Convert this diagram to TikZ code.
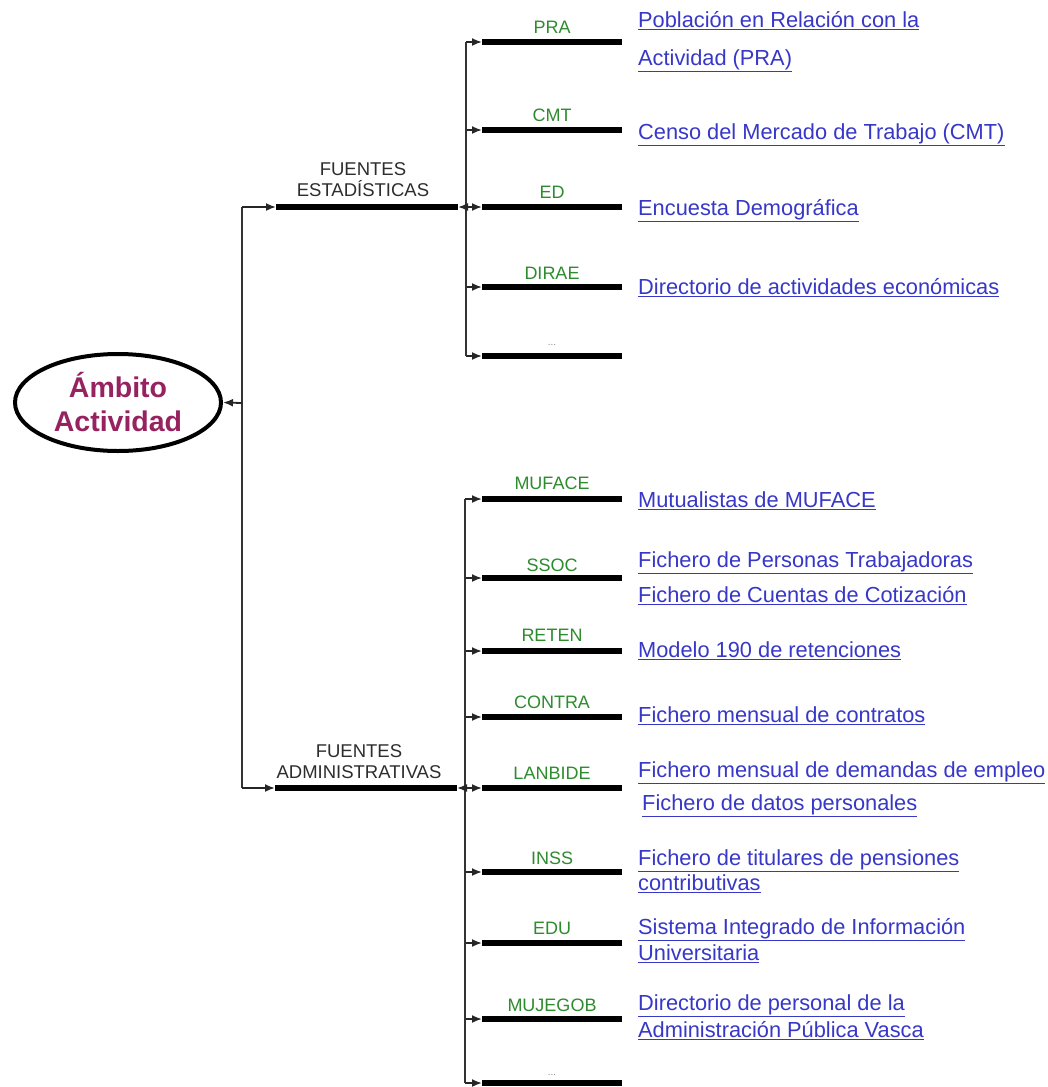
\documentclass[tikz,border=0pt]{standalone}
\usepackage{fontspec}
\setmainfont{Liberation Sans}
\usetikzlibrary{arrows.meta,shapes.geometric}
\definecolor{linkblue}{RGB}{55,55,200}
\definecolor{codegreen}{RGB}{45,140,45}
\definecolor{maroonpink}{RGB}{150,35,95}
\definecolor{darktxt}{RGB}{45,45,45}
\newcommand\lnk[1]{\underline{#1}}
\tikzset{
 bar/.style={fill=black, minimum width=140pt, minimum height=6pt, inner sep=0pt, outer sep=0pt, draw=none},
 midbar/.style={bar, minimum width=182pt},
 conn/.style={draw=black!85, line width=1.8pt, -{Latex[length=10pt,width=8pt]}},
 spine/.style={draw=black!80, line width=1.8pt},
 code/.style={text=codegreen, font=\fontsize{18}{21}\selectfont, inner sep=0pt, text height=13pt, text depth=0pt},
 dots/.style={text=black!45, font=\fontsize{10}{11}\selectfont, inner sep=0pt},
 group/.style={text=darktxt, font=\fontsize{18.5}{21}\selectfont, align=center, inner sep=0pt},
 link/.style={text=linkblue, font=\fontsize{21.8}{25}\selectfont, anchor=west, inner sep=0pt, text height=15pt, text depth=0pt},
 root/.style={ellipse, draw=black, line width=4pt, minimum width=206pt, minimum height=97pt, fill=white, text=maroonpink, font=\bfseries\fontsize{28.5}{34}\selectfont, align=center, inner sep=0pt}
}
\begin{document}
\begin{tikzpicture}[x=1pt,y=-1pt]
\useasboundingbox[fill=white] (0,0) rectangle (1047,1087);
% root
\node[root] (root) at (118,402.5) {Ámbito\\Actividad};
% group bars
\node[midbar] (fe) at (367,207) {};
\node[midbar] (fa) at (366,788) {};
\node[group] (fel) at (363,180) {FUENTES\\ESTADÍSTICAS};
\node[group] (fal) at (359,762) {FUENTES\\ADMINISTRATIVAS};
% left spine
\coordinate (lt) at (242,207);
\coordinate (lm) at (242,403);
\coordinate (lb) at (242,788);
\draw[spine] (lt) -- (lb);
\draw[conn] (lm) -- (root.east);
\draw[conn] (lt) -- (fe.west);
\draw[conn] (lb) -- (fa.west);
% top tree
\foreach \n/\y in {pra/42,cmt/130,ed/207,dirae/287,tdots/356}{
  \node[bar] (\n) at (552,\y) {};
  \coordinate (s\n) at (466,\y);
  \draw[conn] (s\n) -- (\n.west);
}
\draw[spine] (spra) -- (stdots);
\draw[conn] (sed) -- (fe.east);
\node[code] (lpra) at (552,27) {PRA};
\node[code] (lcmt) at (552,115) {CMT};
\node[code] (led) at (552,192) {ED};
\node[code] (ldirae) at (552,273) {DIRAE};
\node[dots] (ltdots) at (552,345) {...};
% bottom tree
\foreach \n/\y in {muface/499,ssoc/578,reten/651,contra/717,lanbide/788,inss/872,edu/943,mujegob/1019,bdots/1083}{
  \node[bar] (\n) at (552,\y) {};
  \coordinate (s\n) at (465,\y);
  \draw[conn] (s\n) -- (\n.west);
}
\draw[spine] (smuface) -- (sbdots);
\draw[conn] (slanbide) -- (fa.east);
\node[code] (lmuface) at (552,483) {MUFACE};
\node[code] (lssoc) at (552,565) {SSOC};
\node[code] (lreten) at (552,635) {RETEN};
\node[code] (lcontra) at (552,702) {CONTRA};
\node[code] (llanbide) at (552,773) {LANBIDE};
\node[code] (linss) at (552,858) {INSS};
\node[code] (ledu) at (552,928) {EDU};
\node[code] (lmujegob) at (552,1005) {MUJEGOB};
\node[dots] (lbdots) at (552,1075) {...};
% right texts
\node[link] (tpra1) at (638,20) {\lnk{Población en Relación con la}};
\node[link] (tpra2) at (638,58) {\lnk{Actividad (PRA)}};
\node[link] (tcmt) at (638,132) {\lnk{Censo del Mercado de Trabajo (CMT)}};
\node[link] (ted) at (638,208) {\lnk{Encuesta Demográfica}};
\node[link] (tdirae) at (638,287) {\lnk{Directorio de actividades económicas}};
\node[link] (tmuface) at (638,500) {\lnk{Mutualistas de MUFACE}};
\node[link] (tssoc1) at (638,560) {\lnk{Fichero de Personas Trabajadoras}};
\node[link] (tssoc2) at (638,595) {\lnk{Fichero de Cuentas de Cotización}};
\node[link] (treten) at (638,650) {\lnk{Modelo 190 de retenciones}};
\node[link] (tcontra) at (638,715) {\lnk{Fichero mensual de contratos}};
\node[link] (tlan1) at (638,770) {\lnk{Fichero mensual de demandas de empleo}};
\node[link] (tlan2) at (642,803) {\lnk{Fichero de datos personales}};
\node[link] (tinss1) at (638,858) {\lnk{Fichero de titulares de pensiones}};
\node[link] (tinss2) at (638,883) {\lnk{contributivas}};
\node[link] (tedu1) at (638,927) {\lnk{Sistema Integrado de Información}};
\node[link] (tedu2) at (638,953) {\lnk{Universitaria}};
\node[link] (tmj1) at (638,1003) {\lnk{Directorio de personal de la}};
\node[link] (tmj2) at (638,1030) {\lnk{Administración Pública Vasca}};
\end{tikzpicture}
\end{document}
